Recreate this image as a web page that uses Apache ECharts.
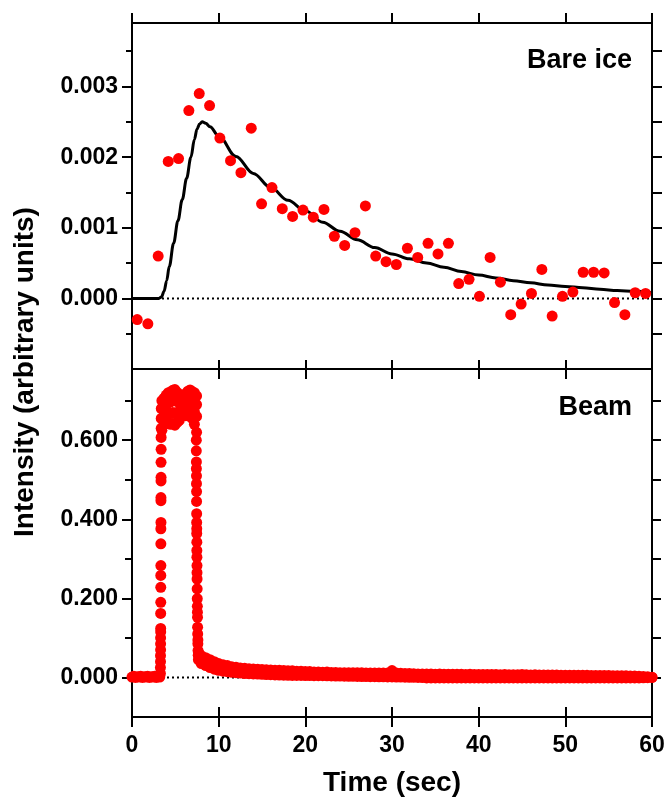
<!DOCTYPE html>
<html>
<head>
<meta charset="utf-8">
<script src="https://cdn.jsdelivr.net/npm/echarts@6/dist/echarts.min.js"></script>
<style>
html,body{margin:0;padding:0;background:#fff;}
#chart{width:670px;height:798px;}
</style>
</head>
<body>
<div id="chart"></div>
<script>
// ---------- Data ----------
// Top panel "Bare ice": measured points
const iceTime = [0.60,1.83,3.02,4.18,5.37,6.56,7.76,8.95,10.14,11.37,12.57,13.76,14.95,16.15,17.34,18.53,19.73,20.92,22.15,23.35,24.54,25.73,26.93,28.12,29.31,30.50,31.78,32.97,34.16,35.31,36.51,37.70,38.89,40.09,41.32,42.51,43.70,44.90,46.09,47.29,48.48,49.67,50.87,52.06,53.26,54.48,55.68,56.87,58.06,59.26];
const iceValue = [-0.00030,-0.00036,0.00060,0.00194,0.00198,0.00266,0.00290,0.00273,0.00227,0.00195,0.00178,0.00241,0.00134,0.00157,0.00127,0.00116,0.00125,0.00115,0.00126,0.00088,0.00075,0.00093,0.00131,0.00060,0.00052,0.00048,0.00071,0.00058,0.00078,0.00063,0.00078,0.00021,0.00027,0.00003,0.00058,0.00023,-0.00023,-0.00008,0.00007,0.00041,-0.00025,0.00003,0.00009,0.00037,0.00037,0.00036,-0.00006,-0.00023,0.00008,0.00007];
// Top panel fitted curve
const fitTime = [0,1,2,3.1,3.4,3.7,4.0,4.3,4.8,5.3,5.8,6.3,6.8,7.2,7.5,7.8,8.1,8.5,9,10,12,14,16,18,20,22,24,26,28,30,32,34,36,38,40,42,44,46,48,50,52,54,56,58,60];
const fitValue = [0,0,0,0,0.00002,0.00010,0.00025,0.00045,0.00078,0.00110,0.00140,0.00170,0.00200,0.00225,0.00240,0.00247,0.00250,0.00248,0.00243,0.00230,0.00201,0.00177,0.00157,0.00139,0.00124,0.00108,0.00095,0.00083,0.00072,0.00063,0.00056,0.00050,0.00044,0.00038,0.00033,0.00029,0.00025,0.00022,0.00019,0.00017,0.00015,0.00013,0.00011,0.00010,0.00008];

// Bottom panel "Beam": [time, intensity]
const beamBaseline = [[0,0.001],[0.2,0.003],[0.4,0],[0.6,0.002],[0.8,0.001],[1.0,0.003],[1.2,0],[1.4,0.002],[1.6,0.001],[1.8,0.003],[2.0,0],[2.2,0.002],[2.4,0.001],[2.6,0.003],[2.8,0],[3.0,0.002],[3.2,0.001]];
const beamRise = [[3.28,0.010],[3.28,0.025],[3.29,0.040],[3.29,0.055],[3.30,0.070],[3.30,0.085],[3.30,0.100],[3.31,0.115],[3.31,0.124],[3.31,0.162],[3.32,0.190],[3.32,0.228],[3.32,0.258],[3.33,0.283],[3.33,0.338],[3.33,0.376],[3.34,0.392],[3.34,0.447],[3.34,0.455],[3.35,0.497],[3.35,0.506],[3.35,0.544],[3.36,0.577],[3.36,0.607],[3.37,0.630],[3.37,0.655],[3.38,0.680]];
const beamPlateau = [
 [3.45,0.700],[3.45,0.680],[3.45,0.655],[3.45,0.625],
 [3.70,0.706],[3.70,0.685],[3.70,0.660],[3.70,0.640],
 [3.95,0.714],[3.95,0.690],[3.95,0.665],[3.95,0.642],
 [4.20,0.720],[4.20,0.695],[4.20,0.668],[4.20,0.645],
 [4.45,0.722],[4.45,0.697],[4.45,0.668],[4.45,0.640],
 [4.70,0.726],[4.70,0.700],[4.70,0.670],[4.70,0.642],
 [4.95,0.728],[4.95,0.700],[4.95,0.668],[4.95,0.638],
 [5.20,0.721],[5.20,0.698],[5.20,0.670],[5.20,0.645],
 [5.45,0.716],[5.45,0.695],[5.45,0.672],[5.45,0.650],
 [5.70,0.710],[5.70,0.692],[5.70,0.675],[5.70,0.660],
 [5.95,0.712],[5.95,0.693],[5.95,0.678],[5.95,0.665],
 [6.20,0.718],[6.20,0.697],[6.20,0.680],[6.20,0.662],
 [6.45,0.724],[6.45,0.702],[6.45,0.682],[6.45,0.665],
 [6.70,0.727],[6.70,0.705],[6.70,0.683],[6.70,0.660],
 [6.95,0.723],[6.95,0.700],[6.95,0.678],[6.95,0.655],
 [7.20,0.720],[7.20,0.697],[7.20,0.672],[7.20,0.640],
 [7.45,0.712],[7.45,0.690],[7.45,0.660],[7.45,0.620]
];
const beamFall = [[7.42,0.600],[7.42,0.573],[7.43,0.545],[7.43,0.528],[7.44,0.510],[7.44,0.490],[7.45,0.470],[7.45,0.445],[7.46,0.414],[7.46,0.392],[7.47,0.376],[7.47,0.364],[7.48,0.342],[7.48,0.321],[7.49,0.304],[7.50,0.283],[7.50,0.265],[7.51,0.249],[7.52,0.224],[7.53,0.199],[7.54,0.180],[7.55,0.165],[7.56,0.152],[7.57,0.127],[7.58,0.110],[7.60,0.095],[7.60,0.085],[7.62,0.068],[7.64,0.056],[7.66,0.045],[7.70,0.062],[7.80,0.050],[7.90,0.040]];
// Decay tail: upper and lower edge of the noisy band
const tailTime = [8.0,8.5,9.0,9.5,10.0,10.5,11.0,11.5,12.0,12.5,13.0,13.5,14.0,14.5,15.0,15.5,16.0,16.5,17.0,17.5,18.0,18.5,19.0,19.5,20.0,20.5,21.0,21.5,22.0,22.5,23.0,23.5,24.0,24.5,25.0,25.5,26.0,26.5,27.0,27.5,28.0,28.5,29.0,29.5,30.0,30.5,31.0,31.5,32.0,32.5,33.0,33.5,34.0,34.5,35.0,35.5,36.0,36.5,37.0,37.5,38.0,38.5,39.0,39.5,40.0,40.5,41.0,41.5,42.0,42.5,43.0,43.5,44.0,44.5,45.0,45.5,46.0,46.5,47.0,47.5,48.0,48.5,49.0,49.5,50.0,50.5,51.0,51.5,52.0,52.5,53.0,53.5,54.0,54.5,55.0,55.5,56.0,56.5,57.0,57.5,58.0,58.5,59.0,59.5,60.0];
const tailUpper = [0.055,0.050,0.045,0.040,0.035,0.032,0.030,0.027,0.026,0.024,0.023,0.022,0.0215,0.021,0.020,0.0195,0.019,0.0185,0.018,0.0178,0.0172,0.0168,0.016,0.0155,0.015,0.0148,0.014,0.0138,0.013,0.0135,0.0128,0.0125,0.012,0.0122,0.0118,0.012,0.0116,0.0118,0.0115,0.0112,0.0115,0.0113,0.011,0.0112,0.0175,0.011,0.0105,0.0102,0.010,0.0095,0.009,0.0085,0.0088,0.0085,0.0082,0.0085,0.008,0.0082,0.008,0.0078,0.008,0.0076,0.0078,0.0075,0.0076,0.0074,0.0072,0.0075,0.0072,0.007,0.0072,0.0068,0.007,0.0068,0.0075,0.0066,0.0065,0.0066,0.0064,0.0062,0.0063,0.006,0.0061,0.0058,0.0058,0.0056,0.0057,0.0055,0.0054,0.0055,0.0052,0.005,0.0052,0.0049,0.0048,0.0046,0.0045,0.0043,0.004,0.0038,0.0035,0.003,0.0025,0.0015,0.0005];
const tailLower = [0.035,0.030,0.025,0.021,0.018,0.016,0.0145,0.013,0.012,0.011,0.010,0.0095,0.009,0.0085,0.008,0.0075,0.007,0.0065,0.006,0.0058,0.0055,0.0052,0.005,0.005,0.0048,0.0047,0.0046,0.0045,0.0045,0.004,0.0038,0.0036,0.0034,0.0032,0.003,0.0028,0.0026,0.0024,0.0022,0.002,0.002,0.0018,0.0016,0.0014,0.0013,0.0011,0.001,0.0008,0.0005,0.0003,0.0,-0.0002,-0.0012,-0.0013,-0.0012,-0.0013,-0.0012,-0.0013,-0.0012,-0.0013,-0.0012,-0.0013,-0.0012,-0.0013,-0.0012,-0.0013,-0.0012,-0.0013,-0.0012,-0.0013,-0.0012,-0.0013,-0.0012,-0.0013,-0.0012,-0.0013,-0.0012,-0.0013,-0.0012,-0.0013,-0.0012,-0.0013,-0.0012,-0.0013,-0.0012,-0.0013,-0.0012,-0.0013,-0.0012,-0.0013,-0.0012,-0.0013,-0.0012,-0.0013,-0.0012,-0.0013,-0.0012,-0.0013,-0.0012,-0.0013,-0.0012,-0.0013,-0.001,-0.0005,0.0];

// Tick values
const xTicks = [0,10,20,30,40,50,60];
const iceTicks = [0,0.001,0.002,0.003];
const iceMinorTicks = [-0.0005,0.0005,0.0015,0.0025,0.0035];
const iceRightTicks = [-0.0005,0,0.0005,0.001,0.0015,0.002,0.0025,0.003,0.0035];
const beamTicks = [0,0.2,0.4,0.6];
const beamMinorTicks = [0.1,0.3,0.5,0.7];
const beamRightTicks = [0,0.1,0.2,0.3,0.4,0.5,0.6,0.7];

// ---------- Chart ----------
const FONT = "'Liberation Sans', Arial, Helvetica, sans-serif";
const chart = echarts.init(document.getElementById('chart'), null, {renderer:'canvas'});
const black = '#000';
const red = '#ff0000';
const line = {show:true, onZero:false, lineStyle:{color:black, width:2}};

function xAx(grid, pos, inside, len, labels){
  return {type:'value', gridIndex:grid, position:pos, min:0, max:60,
    axisLine:line, splitLine:{show:false},
    axisTick:{show:true, inside:inside, length:len, customValues:xTicks, lineStyle:{color:black,width:2}},
    axisLabel: labels ? {show:true, customValues:xTicks, margin:17, color:black, fontFamily:FONT, fontWeight:'bold', fontSize:23} : {show:false}
  };
}
function yAx(grid, pos, min, max, ticks, len, labelTicks){
  return {type:'value', gridIndex:grid, position:pos, min:min, max:max,
    axisLine:line, splitLine:{show:false},
    axisTick:{show:true, inside:false, length:len, customValues:ticks, lineStyle:{color:black,width:2}},
    axisLabel: labelTicks ? {show:true, customValues:labelTicks, margin:14, color:black, fontFamily:FONT, fontWeight:'bold', fontSize:23,
       formatter: v => v.toFixed(3)} : {show:false}
  };
}

const tailData = [];
tailTime.forEach((t,i)=>{ tailData.push([t, tailUpper[i]]); tailData.push([t, tailLower[i]]); });

const option = {
  animation:false,
  backgroundColor:'#fff',
  grid:[
    {left:132, right:18, top:23, height:346},
    {left:132, right:18, top:369, height:348}
  ],
  xAxis:[
    xAx(0,'top',false,10,false),
    xAx(0,'bottom',true,9,false),
    xAx(1,'top',true,10,false),
    xAx(1,'bottom',true,10,false),
    Object.assign(xAx(1,'bottom',false,10,true), {name:'Time (sec)', nameLocation:'middle', nameGap:52,
      nameTextStyle:{color:black, fontFamily:FONT, fontWeight:'bold', fontSize:28}})
  ],
  yAxis:[
    yAx(0,'left',-0.001,0.0039,iceTicks,10,iceTicks),
    yAx(0,'left',-0.001,0.0039,iceMinorTicks,6,null),
    yAx(0,'right',-0.001,0.0039,iceRightTicks,10,null),
    yAx(1,'left',-0.1,0.78,beamTicks,10,beamTicks),
    yAx(1,'left',-0.1,0.78,beamMinorTicks,7,null),
    yAx(1,'right',-0.1,0.78,beamRightTicks,9,null)
  ],
  graphic:[
    {type:'text', right:38, top:47, style:{text:'Bare ice', fill:black, font:"bold 27px "+FONT}},
    {type:'text', right:38, top:394, style:{text:'Beam', fill:black, font:"bold 27px "+FONT}},
    {type:'text', x:25, y:372, rotation:Math.PI/2, style:{text:'Intensity (arbitrary units)', fill:black, font:"bold 28px "+FONT, align:'center', verticalAlign:'middle'}}
  ],
  series:[
    {type:'line', xAxisIndex:1, yAxisIndex:0, data:[[0,0],[60,0]], symbol:'none', silent:true,
      lineStyle:{color:black, width:2, type:[2,3]}, z:1},
    {type:'line', xAxisIndex:1, yAxisIndex:0, data:fitTime.map((t,i)=>[t,fitValue[i]]), symbol:'none',
      smooth:0.35, smoothMonotone:'x', lineStyle:{color:black, width:3, join:'round'}, z:2},
    {type:'scatter', xAxisIndex:1, yAxisIndex:0, data:iceTime.map((t,i)=>[t,iceValue[i]]), symbol:'circle', symbolSize:11,
      itemStyle:{color:red, opacity:1}, z:3},
    {type:'line', xAxisIndex:3, yAxisIndex:3, data:[[0,0],[60,0]], symbol:'none', silent:true,
      lineStyle:{color:black, width:2, type:[2,3]}, z:1},
    {type:'scatter', xAxisIndex:3, yAxisIndex:3,
      data:[].concat(beamBaseline, beamRise, beamPlateau, beamFall, tailData),
      symbol:'circle', symbolSize:11, itemStyle:{color:red, opacity:1}, z:3, large:false}
  ]
};
chart.setOption(option);
</script>
</body>
</html>
